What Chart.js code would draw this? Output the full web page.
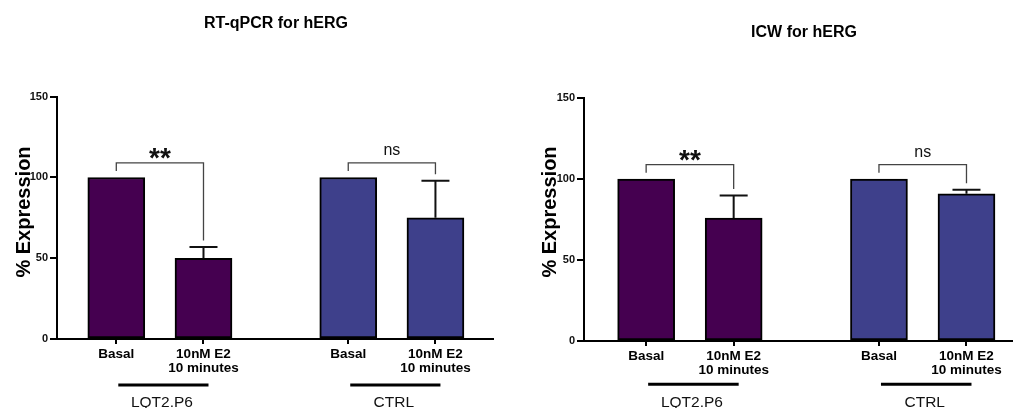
<!DOCTYPE html>
<html>
<head>
<meta charset="utf-8">
<script src="https://cdn.jsdelivr.net/npm/chart.js@4.4.1/dist/chart.umd.min.js"></script>
<style>
  html, body { margin: 0; padding: 0; background: #fff; }
  #wrap { position: relative; width: 1016px; height: 408px; }
  .panel { position: absolute; top: 0; width: 508px; height: 408px; }
</style>
</head>
<body>
<div id="wrap">
  <div class="panel" style="left:0"><canvas id="qpcr"></canvas></div>
  <div class="panel" style="left:508px"><canvas id="icw"></canvas></div>
</div>
<script>
// data
const groupLabels = ['LQT2.P6', 'CTRL'];
const conditionLabels = [['Basal'], ['10nM E2', '10 minutes'], ['Basal'], ['10nM E2', '10 minutes']];
const barGroup = [0, 0, 1, 1];
const qpcrMeans = [100, 50, 100, 75];
const qpcrErrors = [0, 7, 0, 23];
const qpcrSignif = ['**', 'ns'];
const icwMeans = [100, 76, 100, 91];
const icwErrors = [0, 14, 0, 2.5];
const icwSignif = ['**', 'ns'];
const yTicks = [0, 50, 100, 150];

const FONT = "'Liberation Sans', Arial, sans-serif";
const PURPLE = '#450050';
const BLUE = '#3e408b';
// bar slots along the x axis (two groups with a wider gap in between)
const barSlots = [0, 1, 2.66, 3.66];
const BRACKET_Y = 109;
const LEG_GAP = 4;

Chart.defaults.font.family = FONT;
Chart.defaults.color = '#000';

// draws error bars, brackets, group lines and texts
const annotPlugin = {
    id: 'annot',
    afterDatasetsDraw(chart) {
        const cfg = chart.options.plugins.annot;
        const ctx = chart.ctx;
        const xs = chart.scales.x, ys = chart.scales.y;
        ctx.save();

        // error bars (upper only)
        ctx.strokeStyle = '#111';
        ctx.lineWidth = 2;
        cfg.means.forEach((m, i) => {
            if (!cfg.errors[i]) return;
            const px = xs.getPixelForValue(barSlots[i]);
            const top = ys.getPixelForValue(m + cfg.errors[i]);
            ctx.beginPath();
            ctx.moveTo(px, ys.getPixelForValue(m));
            ctx.lineTo(px, top);
            ctx.moveTo(px - 14, top);
            ctx.lineTo(px + 14, top);
            ctx.stroke();
        });
        ctx.restore();
    },
    afterDraw(chart) {
        const cfg = chart.options.plugins.annot;
        const ctx = chart.ctx;
        const xs = chart.scales.x, ys = chart.scales.y;
        ctx.save();

        // titles
        ctx.fillStyle = '#000';
        ctx.textAlign = 'center';
        ctx.textBaseline = 'alphabetic';
        ctx.font = 'bold 16px ' + FONT;
        ctx.fillText(cfg.title, cfg.titleX, cfg.titleBase);

        ctx.save();
        ctx.translate(cfg.yTitleX, 212);
        ctx.rotate(-Math.PI / 2);
        ctx.textBaseline = 'middle';
        ctx.font = 'bold 20px ' + FONT;
        ctx.fillText('% Expression', 0, 0);
        ctx.restore();

        groupLabels.forEach((g, gi) => {
            const i0 = gi * 2, i1 = gi * 2 + 1;
            const x0 = xs.getPixelForValue(barSlots[i0]);
            const x1 = xs.getPixelForValue(barSlots[i1]);

            // significance bracket
            const yb = ys.getPixelForValue(BRACKET_Y);
            const l0 = ys.getPixelForValue(cfg.means[i0] + cfg.errors[i0] + LEG_GAP);
            const l1 = ys.getPixelForValue(cfg.means[i1] + cfg.errors[i1] + LEG_GAP);
            ctx.strokeStyle = '#444';
            ctx.lineWidth = 1.3;
            ctx.beginPath();
            ctx.moveTo(x0, l0);
            ctx.lineTo(x0, yb);
            ctx.lineTo(x1, yb);
            ctx.lineTo(x1, l1);
            ctx.stroke();

            const mid = (x0 + x1) / 2;
            ctx.fillStyle = '#111';
            if (cfg.signif[gi] === 'ns') {
                ctx.font = '16px ' + FONT;
                ctx.fillText('ns', mid, yb - 12 + 4);
            } else {
                ctx.font = 'bold 28px ' + FONT;
                ctx.fillText(cfg.signif[gi], mid, yb - 11 + 15);
            }

            // group underline + label
            ctx.strokeStyle = '#000';
            ctx.lineWidth = 3;
            ctx.beginPath();
            ctx.moveTo(x0 + 2, cfg.groupLineY);
            ctx.lineTo(x1 + 5, cfg.groupLineY);
            ctx.stroke();
            ctx.fillStyle = '#111';
            ctx.font = '15.5px ' + FONT;
            ctx.fillText(g, mid + 2, 407);
        });
        ctx.restore();
    }
};

function makeChart(id, cfg) {
    const points = cfg.means.map((v, i) => ({ x: barSlots[i], y: v }));
    return new Chart(document.getElementById(id), {
        type: 'bar',
        data: {
            datasets: [{
                data: points,
                backgroundColor: barGroup.map(g => g === 0 ? PURPLE : BLUE),
                borderColor: '#000',
                borderWidth: 2,
                borderSkipped: false,
                barThickness: 57
            }]
        },
        plugins: [annotPlugin],
        options: {
            responsive: true,
            maintainAspectRatio: false,
            animation: false,
            devicePixelRatio: 1,
            layout: { padding: { top: cfg.padTop, right: cfg.padRight, left: 0, bottom: 0 } },
            plugins: {
                legend: { display: false },
                tooltip: { enabled: false },
                annot: cfg
            },
            scales: {
                x: {
                    type: 'linear',
                    bounds: 'data',
                    offset: false,
                    min: cfg.xMin,
                    max: cfg.xMax,
                    afterBuildTicks: ax => { ax.ticks = barSlots.map(v => ({ value: v })); },
                    afterFit: s => { s.height = cfg.xHeight; },
                    grid: { offset: false, drawOnChartArea: false, tickLength: 5, color: '#000', lineWidth: 2 },
                    border: { color: '#000', width: 2 },
                    ticks: {
                        autoSkip: false,
                        maxRotation: 0,
                        padding: 3,
                        color: '#000',
                        font: { size: 13.5, weight: 'bold', lineHeight: 1.07 },
                        callback: (v, i) => conditionLabels[i]
                    }
                },
                y: {
                    min: 0,
                    max: 150,
                    afterBuildTicks: ax => { ax.ticks = yTicks.map(v => ({ value: v })); },
                    afterFit: s => { s.width = cfg.yWidth; },
                    grid: { drawOnChartArea: false, tickLength: 7, color: '#000', lineWidth: 2 },
                    border: { color: '#000', width: 2 },
                    ticks: { padding: 2, color: '#111', font: { size: 11, weight: 'bold' } }
                }
            }
        }
    });
}

makeChart('qpcr', {
    title: 'RT-qPCR for hERG', titleX: 276, titleBase: 27.7, yTitleX: 24,
    means: qpcrMeans, errors: qpcrErrors, signif: qpcrSignif,
    xMin: -0.68, xMax: 4.32, yWidth: 57, xHeight: 69, padTop: 96.7, padRight: 15,
    groupLineY: 385
});

makeChart('icw', {
    title: 'ICW for hERG', titleX: 296, titleBase: 37.4, yTitleX: 42,
    means: icwMeans, errors: icwErrors, signif: icwSignif,
    xMin: -0.71, xMax: 4.18, yWidth: 76, xHeight: 67, padTop: 98.3, padRight: 4,
    groupLineY: 384.3
});
</script>
</body>
</html>
